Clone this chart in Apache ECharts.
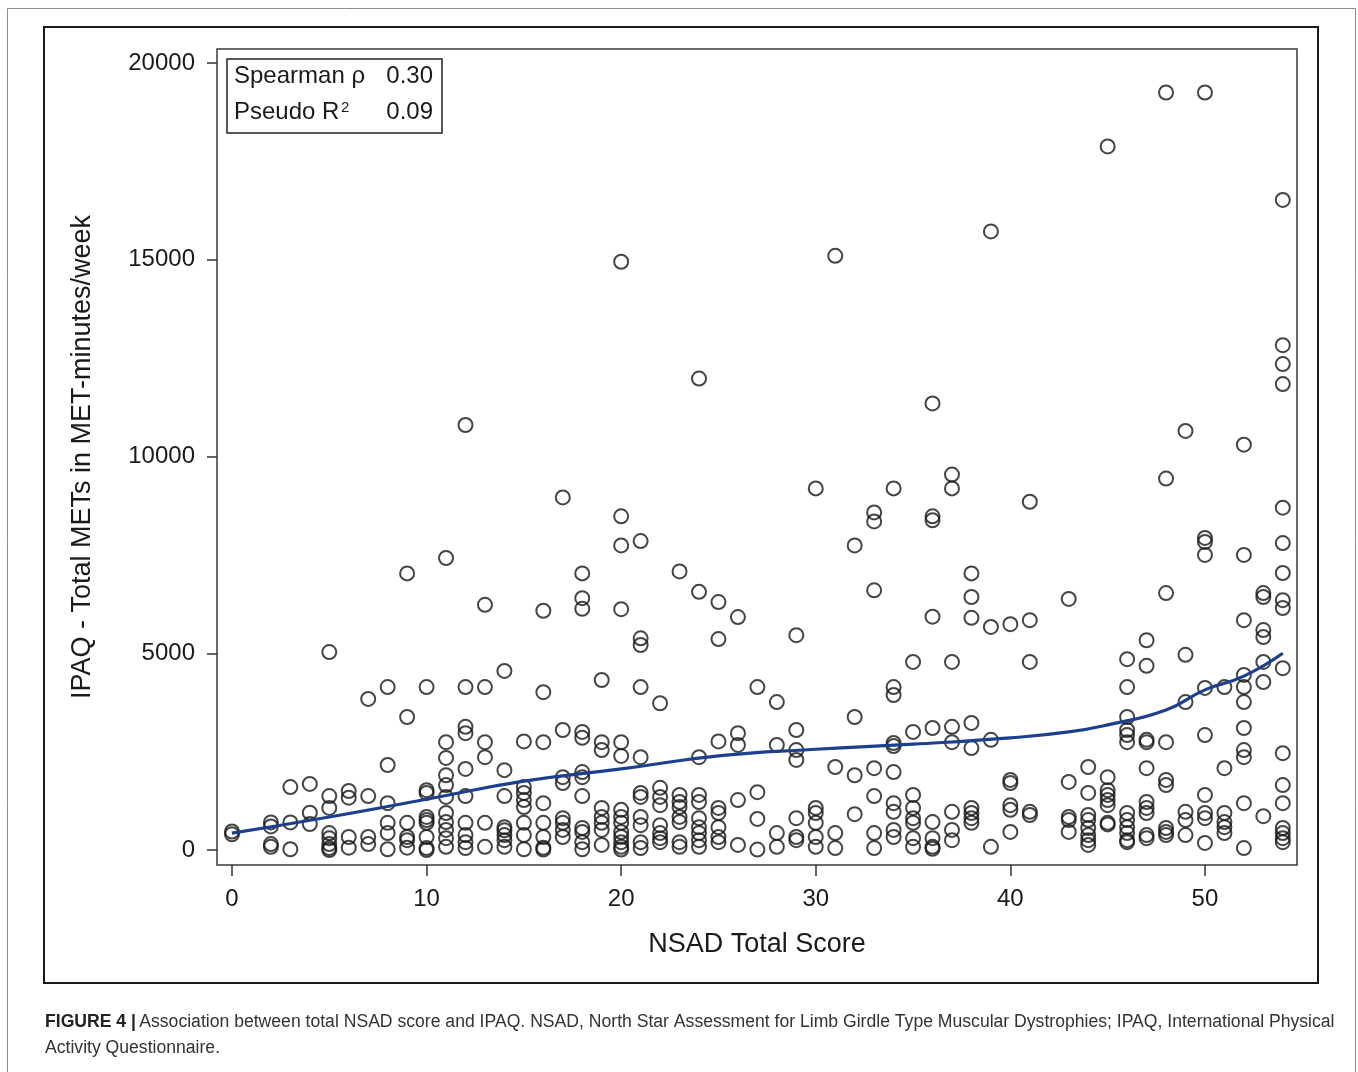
<!DOCTYPE html>
<html>
<head>
<meta charset="utf-8">
<script src="https://cdn.jsdelivr.net/npm/echarts@6/dist/echarts.min.js"></script>
<style>
html,body{margin:0;padding:0;background:#fff;}
#c{width:1358px;height:1072px;}
</style>
</head>
<body>
<div id="c"></div>
<script>
// NSAD total score (x) and the IPAQ values observed at each score (y)
const nsadScores = [0, 2, 3, 4, 5, 6, 7, 8, 9, 10, 11, 12, 13, 14, 15, 16, 17, 18, 19, 20, 21, 22, 23, 24, 25, 26, 27, 28, 29, 30, 31, 32, 33, 34, 35, 36, 37, 38, 39, 40, 41, 43, 44, 45, 46, 47, 48, 49, 50, 51, 52, 53, 54];
const ipaqValues = [
  [400, 470],
  [700, 600, 150, 80],
  [1600, 700, 20],
  [1680, 950, 660],
  [5030, 1370, 1070, 430, 300, 150, 50, 0],
  [1500, 1330, 330, 60],
  [3840, 1370, 330, 150],
  [4140, 2160, 1190, 690, 430, 20],
  [7030, 3380, 690, 330, 250, 60],
  [4140, 1520, 1450, 840, 760, 690, 330, 50, 0],
  [7420, 2740, 2340, 1900, 1650, 1350, 940, 710, 510, 300, 80],
  [10800, 4140, 3130, 2970, 2060, 1370, 690, 380, 200, 50],
  [6230, 4140, 2740, 2360, 690, 80],
  [4550, 2030, 1370, 580, 500, 380, 250, 80],
  [2760, 1600, 1450, 1270, 1090, 690, 380, 20],
  [6080, 4010, 2740, 1190, 690, 330, 60, 10],
  [8960, 3050, 1850, 1700, 810, 690, 510, 330],
  [7030, 6400, 6130, 3000, 2850, 1980, 1850, 1370, 560, 460, 200, 20],
  [4320, 2740, 2540, 1070, 840, 690, 510, 130],
  [14950, 8480, 7740, 6120, 2740, 2390, 1020, 840, 690, 460, 330, 200, 80, 10],
  [7850, 5380, 5210, 4140, 2360, 1450, 1350, 840, 630, 200, 50],
  [3730, 1580, 1350, 1140, 630, 430, 300, 200],
  [7080, 1400, 1220, 1090, 840, 710, 200, 80],
  [11980, 6560, 2360, 1400, 1220, 810, 580, 430, 250, 80],
  [6300, 5360, 2760, 1070, 940, 580, 330, 200],
  [5920, 2970, 2670, 1270, 130],
  [4140, 1470, 790, 10],
  [3760, 2670, 430, 80],
  [5460, 3050, 2540, 2290, 810, 330, 250],
  [9190, 1070, 940, 690, 330, 80],
  [15100, 2110, 430, 50],
  [7740, 3380, 1900, 910],
  [8580, 8350, 6600, 2080, 1370, 430, 50],
  [9190, 4140, 3940, 2720, 2640, 1980, 1190, 970, 510, 330],
  [4780, 3000, 1400, 1070, 810, 690, 300, 80],
  [11350, 8480, 8380, 5930, 3100, 710, 300, 80, 30],
  [9540, 9190, 4780, 3130, 2740, 970, 510, 250],
  [7030, 6430, 5900, 3230, 2590, 1070, 940, 810, 690],
  [15720, 5670, 2800, 80],
  [5740, 1780, 1700, 1140, 1020, 460],
  [8850, 5840, 4780, 970, 890],
  [6380, 1730, 840, 760, 460],
  [2110, 1450, 890, 760, 560, 380, 250, 130],
  [17880, 1850, 1520, 1400, 1270, 1140, 690, 650],
  [4850, 4140, 3380, 3050, 2920, 2740, 940, 760, 580, 430, 250, 200],
  [5330, 4680, 2800, 2740, 2080, 1220, 1070, 940, 380, 300],
  [19250, 9440, 6530, 2740, 1780, 1650, 560, 460, 380],
  [10650, 4960, 3760, 970, 760, 380],
  [19250, 7930, 7830, 7500, 4120, 2920, 1400, 940, 810, 180],
  [4140, 2080, 940, 710, 580, 430],
  [10300, 7500, 5840, 4450, 4140, 3760, 3100, 2540, 2360, 1190, 50],
  [6530, 6430, 5590, 5410, 4780, 4270, 860],
  [16520, 12830, 12350, 11840, 8700, 7800, 7040, 6350, 6150, 4620, 2460, 1650, 1190, 560, 430, 300, 200]
];

// Fitted curve
const fitX = [0, 5, 10, 15, 20, 25, 30, 35, 40, 43, 45, 48, 50, 52, 54];
const fitY = [430, 840, 1290, 1750, 2060, 2390, 2560, 2690, 2850, 3000, 3180, 3560, 4070, 4420, 5000];

// Ticks
const xTicks = [0, 10, 20, 30, 40, 50];
const yTicks = [0, 5000, 10000, 15000, 20000];

// Statistics box
const statNames = ['Spearman ρ', 'Pseudo R'];
const statValues = ['0.30', '0.09'];

const xTitle = 'NSAD Total Score';
const yTitle = 'IPAQ - Total METs in MET-minutes/week';
const captionBold = 'FIGURE 4 |';
const captionLine1 = 'Association between total NSAD score and IPAQ. NSAD, North Star Assessment for Limb Girdle Type Muscular Dystrophies; IPAQ, International Physical';
const captionLine2 = 'Activity Questionnaire.';

const points = [];
nsadScores.forEach((s, i) => ipaqValues[i].forEach(v => points.push([s, v])));
const fitData = fitX.map((x, i) => [x, fitY[i]]);

const FONT = '"Liberation Sans", Arial, Helvetica, sans-serif';
const INK = '#1a1a1a';

const chart = echarts.init(document.getElementById('c'), null, {renderer: 'canvas'});
chart.setOption({
  animation: false,
  backgroundColor: '#ffffff',
  grid: {
    left: 217, top: 49, width: 1080, height: 816,
    show: true, borderColor: '#3a3a3a', borderWidth: 1.5, backgroundColor: 'transparent'
  },
  xAxis: {
    type: 'value', min: -0.77, max: 54.73,
    axisLine: {show: false, onZero: false},
    splitLine: {show: false},
    axisTick: {show: true, inside: false, customValues: xTicks, length: 11, lineStyle: {color: '#333', width: 1.5}},
    axisLabel: {customValues: xTicks, margin: 22, fontSize: 24, color: INK, fontFamily: FONT,
      formatter: v => String(v)},
    name: xTitle, nameLocation: 'middle', nameGap: 66,
    nameTextStyle: {fontSize: 27, color: INK, fontFamily: FONT}
  },
  yAxis: {
    type: 'value', min: -381, max: 20356,
    axisLine: {show: false, onZero: false},
    splitLine: {show: false},
    axisTick: {show: true, inside: false, customValues: yTicks, length: 10, lineStyle: {color: '#333', width: 1.5}},
    axisLabel: {customValues: yTicks, margin: 22, fontSize: 24, color: INK, fontFamily: FONT,
      formatter: v => String(v)},
    name: yTitle, nameLocation: 'middle', nameGap: 121,
    nameTextStyle: {fontSize: 27, color: INK, fontFamily: FONT}
  },
  series: [
    {
      type: 'scatter',
      data: points,
      symbol: 'circle',
      symbolSize: 14,
      itemStyle: {color: 'rgba(0,0,0,0)', borderColor: '#161616', borderWidth: 2},
      emphasis: {disabled: true},
      silent: true,
      z: 2
    },
    {
      type: 'line',
      data: fitData,
      smooth: 0.5,
      showSymbol: false,
      lineStyle: {color: '#1c3f8e', width: 3.2},
      emphasis: {disabled: true},
      silent: true,
      z: 3
    }
  ],
  graphic: [
    {type: 'rect', silent: true, z: 0, shape: {x: 7.5, y: 8.5, width: 1348, height: 1090},
      style: {fill: 'none', stroke: '#8c8c8c', lineWidth: 1}},
    {type: 'rect', silent: true, z: 0, shape: {x: 44, y: 27, width: 1274, height: 956},
      style: {fill: 'none', stroke: '#1a1a1a', lineWidth: 2}},
    {type: 'rect', silent: true, z: 10, shape: {x: 227, y: 59, width: 215, height: 74},
      style: {fill: '#fff', stroke: '#222', lineWidth: 1.5}},
    {type: 'text', silent: true, z: 11, x: 234, y: 76,
      style: {text: statNames[0], fill: INK, fontSize: 24, fontFamily: FONT, align: 'left', verticalAlign: 'middle'}},
    {type: 'text', silent: true, z: 11, x: 433, y: 76,
      style: {text: statValues[0], fill: INK, fontSize: 24, fontFamily: FONT, align: 'right', verticalAlign: 'middle'}},
    {type: 'text', silent: true, z: 11, x: 234, y: 112,
      style: {text: statNames[1], fill: INK, fontSize: 24, fontFamily: FONT, align: 'left', verticalAlign: 'middle'}},
    {type: 'text', silent: true, z: 11, x: 341, y: 100,
      style: {text: '2', fill: INK, fontSize: 15, fontFamily: FONT, align: 'left', verticalAlign: 'top'}},
    {type: 'text', silent: true, z: 11, x: 433, y: 112,
      style: {text: statValues[1], fill: INK, fontSize: 24, fontFamily: FONT, align: 'right', verticalAlign: 'middle'}},
    {type: 'text', silent: true, z: 11, x: 45, y: 1022,
      style: {
        text: '{b|' + captionBold + '} {n|' + captionLine1 + '}',
        verticalAlign: 'middle', align: 'left',
        rich: {
          b: {fontSize: 17.6, fontWeight: 'bold', fill: '#222', fontFamily: FONT},
          n: {fontSize: 17.6, fill: '#333', fontFamily: FONT}
        }
      }},
    {type: 'text', silent: true, z: 11, x: 45, y: 1048,
      style: {text: captionLine2, fill: '#333', fontSize: 17.6, fontFamily: FONT, align: 'left', verticalAlign: 'middle'}}
  ]
});
</script>
</body>
</html>
